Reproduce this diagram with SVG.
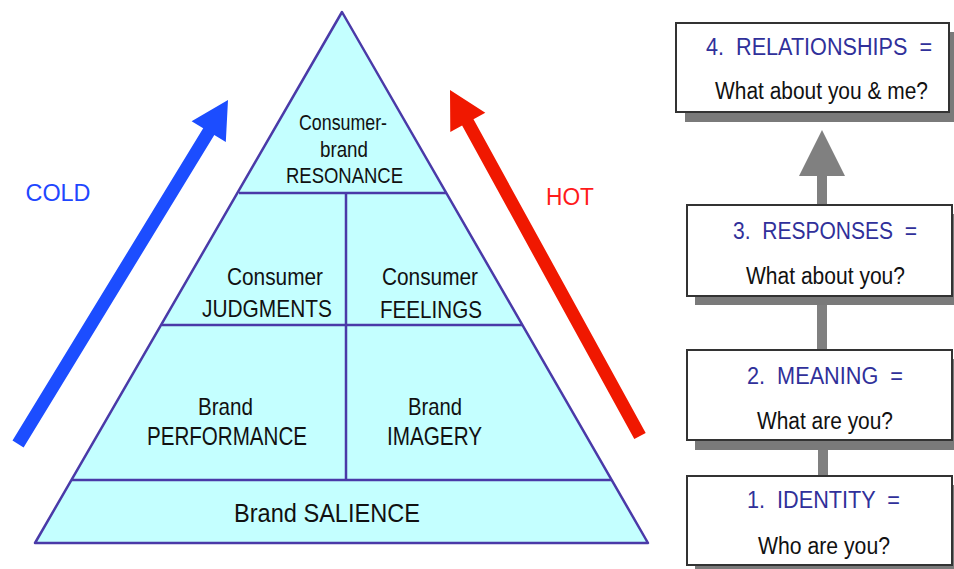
<svg xmlns="http://www.w3.org/2000/svg" width="954" height="569" viewBox="0 0 954 569">
<style>
text{font-family:"Liberation Sans",Arial,sans-serif;text-anchor:middle;}
.py{fill:#111;}
.lvl{fill:#c4ffff;stroke:#4a3aa8;stroke-width:2.5;stroke-linejoin:round;}
.div{stroke:#4a3aa8;stroke-width:2.5;fill:none;}
.box{fill:#fff;stroke:#333;stroke-width:2;}
.shadow{fill:#7a7a7a;}
.hd{fill:#30309a;font-size:23px;}
.q{fill:#111;font-size:23px;}
.conn{fill:#808080;}
</style>
<rect width="954" height="569" fill="#fff"/>

<g id="connectors">
  <rect class="conn" x="817" y="170" width="10" height="40"/>
  <polygon class="conn" points="799,176 822,130 845,176"/>
  <rect class="conn" x="817" y="300" width="10" height="55"/>
  <rect class="conn" x="818" y="445" width="10" height="35"/>
</g>

<g id="cold-arrow">
  <polygon fill="#1c4dff" points="12.5,440.6 203.2,128.2 191.6,121.2 228,100 225.8,142 214.3,135 23.6,447.4"/>
  <text x="58" y="201" font-size="24" fill="#1f47ff" textLength="65" lengthAdjust="spacingAndGlyphs">COLD</text>
</g>

<g id="hot-arrow">
  <polygon fill="#f01800" points="634.3,439.1 462.1,125.5 450.3,132 450,90 485.3,112.8 473.5,119.3 645.7,432.9"/>
  <text x="570" y="205" font-size="23" fill="#ff1a1a" textLength="48" lengthAdjust="spacingAndGlyphs">HOT</text>
</g>

<g id="pyramid">
  <polygon class="lvl" points="342,12 648,543 35,543"/>
  <line class="div" x1="239" y1="193" x2="446" y2="193"/>
  <line class="div" x1="162" y1="325" x2="522" y2="325"/>
  <line class="div" x1="72" y1="480" x2="612" y2="480"/>
  <line class="div" x1="346" y1="193" x2="346" y2="480"/>
</g>

<g id="resonance">
  <text class="py" x="343" y="130" font-size="22" textLength="88" lengthAdjust="spacingAndGlyphs">Consumer-</text>
  <text class="py" x="344" y="157" font-size="22" textLength="48" lengthAdjust="spacingAndGlyphs">brand</text>
  <text class="py" x="344.5" y="183" font-size="22" textLength="117" lengthAdjust="spacingAndGlyphs">RESONANCE</text>
</g>

<g id="judgments">
  <text class="py" x="275" y="285" font-size="24" textLength="96" lengthAdjust="spacingAndGlyphs">Consumer</text>
  <text class="py" x="267" y="317" font-size="24" textLength="130" lengthAdjust="spacingAndGlyphs">JUDGMENTS</text>
</g>

<g id="feelings">
  <text class="py" x="430" y="285" font-size="24" textLength="96" lengthAdjust="spacingAndGlyphs">Consumer</text>
  <text class="py" x="431" y="318" font-size="24" textLength="102" lengthAdjust="spacingAndGlyphs">FEELINGS</text>
</g>

<g id="performance">
  <text class="py" x="225.5" y="415" font-size="24" textLength="55" lengthAdjust="spacingAndGlyphs">Brand</text>
  <text class="py" x="227" y="445" font-size="25" textLength="160" lengthAdjust="spacingAndGlyphs">PERFORMANCE</text>
</g>

<g id="imagery">
  <text class="py" x="435" y="415" font-size="24" textLength="54" lengthAdjust="spacingAndGlyphs">Brand</text>
  <text class="py" x="434.5" y="445" font-size="25" textLength="95" lengthAdjust="spacingAndGlyphs">IMAGERY</text>
</g>

<g id="salience">
  <text class="py" x="327" y="522" font-size="26" textLength="186" lengthAdjust="spacingAndGlyphs">Brand SALIENCE</text>
</g>

<g id="step4">
  <rect class="shadow" x="685" y="32" width="269" height="90"/>
  <rect class="box" x="676" y="23" width="273" height="89"/>
  <text class="hd" x="819" y="55" textLength="226" lengthAdjust="spacingAndGlyphs" xml:space="preserve">4.  RELATIONSHIPS  =</text>
  <text class="q" x="821.5" y="99" font-size="22" textLength="213" lengthAdjust="spacingAndGlyphs">What about you &amp; me?</text>
</g>

<g id="step3">
  <rect class="shadow" x="695" y="214" width="259" height="91"/>
  <rect class="box" x="687" y="205" width="265" height="91"/>
  <text class="hd" x="825" y="239" textLength="184" lengthAdjust="spacingAndGlyphs" xml:space="preserve">3.  RESPONSES  =</text>
  <text class="q" x="825.5" y="284" textLength="159" lengthAdjust="spacingAndGlyphs">What about you?</text>
</g>

<g id="step2">
  <rect class="shadow" x="695" y="359" width="259" height="91"/>
  <rect class="box" x="687" y="350" width="265" height="90"/>
  <text class="hd" x="825" y="384" textLength="156" lengthAdjust="spacingAndGlyphs" xml:space="preserve">2.  MEANING  =</text>
  <text class="q" x="825" y="429" textLength="136" lengthAdjust="spacingAndGlyphs">What are you?</text>
</g>

<g id="step1">
  <rect class="shadow" x="695" y="485" width="259" height="84"/>
  <rect class="box" x="687" y="476" width="265" height="89"/>
  <text class="hd" x="823.5" y="508" textLength="153" lengthAdjust="spacingAndGlyphs" xml:space="preserve">1.  IDENTITY  =</text>
  <text class="q" x="824" y="554" textLength="132" lengthAdjust="spacingAndGlyphs">Who are you?</text>
</g>
</svg>
